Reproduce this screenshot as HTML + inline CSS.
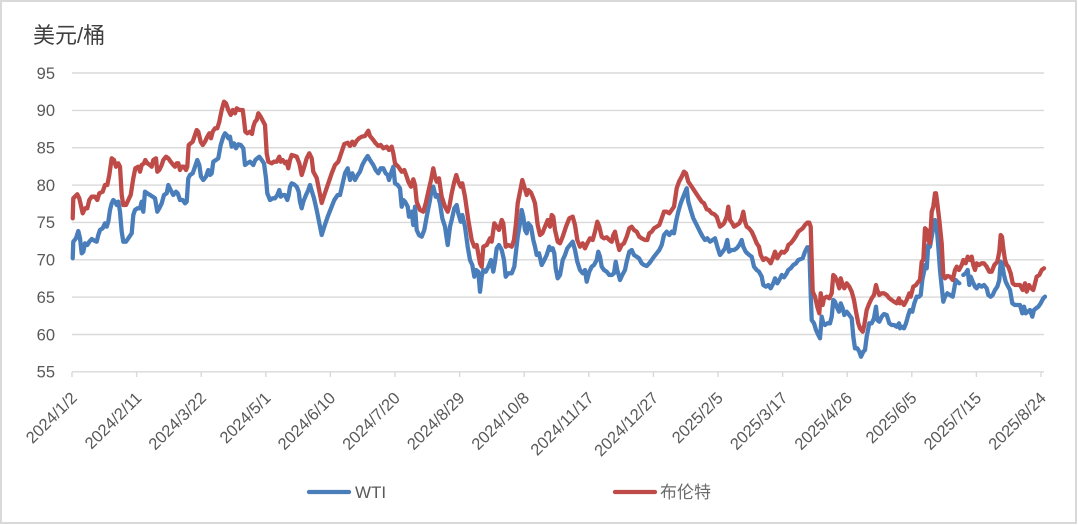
<!DOCTYPE html>
<html><head><meta charset="utf-8"><style>
html,body{margin:0;padding:0;background:#fff;}
svg{display:block;}
text{font-family:"Liberation Sans","Noto Sans CJK SC",sans-serif;}
</style></head><body>
<svg width="1078" height="525" viewBox="0 0 1078 525" xmlns="http://www.w3.org/2000/svg">
<rect x="1" y="1" width="1075" height="522" fill="#fff" stroke="#d9d9d9" stroke-width="2"/>
<text x="33" y="43" font-size="22" fill="#404040">美元/桶</text>
<g stroke="#d9d9d9" stroke-width="1.4">
<line x1="72" y1="73" x2="1044" y2="73"/>
<line x1="72" y1="110.4" x2="1044" y2="110.4"/>
<line x1="72" y1="147.7" x2="1044" y2="147.7"/>
<line x1="72" y1="185.1" x2="1044" y2="185.1"/>
<line x1="72" y1="222.4" x2="1044" y2="222.4"/>
<line x1="72" y1="259.8" x2="1044" y2="259.8"/>
<line x1="72" y1="297.1" x2="1044" y2="297.1"/>
<line x1="72" y1="334.5" x2="1044" y2="334.5"/>
<line x1="72" y1="371.8" x2="1044" y2="371.8"/>
<line x1="72" y1="371.8" x2="72" y2="377"/>
<line x1="136.6" y1="371.8" x2="136.6" y2="377"/>
<line x1="201.2" y1="371.8" x2="201.2" y2="377"/>
<line x1="265.8" y1="371.8" x2="265.8" y2="377"/>
<line x1="330.4" y1="371.8" x2="330.4" y2="377"/>
<line x1="395" y1="371.8" x2="395" y2="377"/>
<line x1="459.6" y1="371.8" x2="459.6" y2="377"/>
<line x1="524.2" y1="371.8" x2="524.2" y2="377"/>
<line x1="588.8" y1="371.8" x2="588.8" y2="377"/>
<line x1="653.4" y1="371.8" x2="653.4" y2="377"/>
<line x1="718" y1="371.8" x2="718" y2="377"/>
<line x1="782.6" y1="371.8" x2="782.6" y2="377"/>
<line x1="847.2" y1="371.8" x2="847.2" y2="377"/>
<line x1="911.8" y1="371.8" x2="911.8" y2="377"/>
<line x1="976.4" y1="371.8" x2="976.4" y2="377"/>
<line x1="1041" y1="371.8" x2="1041" y2="377"/>
</g>
<g font-size="16.5" fill="#595959" text-anchor="end">
<text x="55" y="78.8">95</text>
<text x="55" y="116.2">90</text>
<text x="55" y="153.5">85</text>
<text x="55" y="190.9">80</text>
<text x="55" y="228.2">75</text>
<text x="55" y="265.6">70</text>
<text x="55" y="302.9">65</text>
<text x="55" y="340.3">60</text>
<text x="55" y="377.6">55</text>
</g>
<g font-size="16.5" fill="#595959" text-anchor="end">
<text x="78" y="399" transform="rotate(-45 78 399)">2024/1/2</text>
<text x="142.6" y="399" transform="rotate(-45 142.6 399)">2024/2/11</text>
<text x="207.2" y="399" transform="rotate(-45 207.2 399)">2024/3/22</text>
<text x="271.8" y="399" transform="rotate(-45 271.8 399)">2024/5/1</text>
<text x="336.4" y="399" transform="rotate(-45 336.4 399)">2024/6/10</text>
<text x="401" y="399" transform="rotate(-45 401 399)">2024/7/20</text>
<text x="465.6" y="399" transform="rotate(-45 465.6 399)">2024/8/29</text>
<text x="530.2" y="399" transform="rotate(-45 530.2 399)">2024/10/8</text>
<text x="594.8" y="399" transform="rotate(-45 594.8 399)">2024/11/17</text>
<text x="659.4" y="399" transform="rotate(-45 659.4 399)">2024/12/27</text>
<text x="724" y="399" transform="rotate(-45 724 399)">2025/2/5</text>
<text x="788.6" y="399" transform="rotate(-45 788.6 399)">2025/3/17</text>
<text x="853.2" y="399" transform="rotate(-45 853.2 399)">2025/4/26</text>
<text x="917.8" y="399" transform="rotate(-45 917.8 399)">2025/6/5</text>
<text x="982.4" y="399" transform="rotate(-45 982.4 399)">2025/7/15</text>
<text x="1047" y="399" transform="rotate(-45 1047 399)">2025/8/24</text>
</g>
<g fill="none" stroke-width="4.3" stroke-linejoin="round" stroke-linecap="round">
<polyline stroke="#4a7ebb" points="72.7,258.3 73.3,241.7 76,238.3 78.3,231 80,238.3 81.7,253.3 83.3,251.7 85,243.3 87.3,245 89.3,241.7 91.7,239 95,241 96.7,241.7 98.3,235 100,230 102.7,228.3 105,223.3 106.7,226.7 108.3,221.7 110,210 111.7,203.3 113.3,200 115,201.7 116.7,205 118.3,201.7 120,211.7 121.7,231.7 123.3,241.7 126,241.7 128.3,238.3 131.7,233.3 133.3,215 135,210 137.3,208.3 140,208.3 141.7,201.7 143.3,211.7 145,191.7 147.3,193.3 150,195 152.7,196.7 155,198.3 157.3,211.7 159.3,208.3 161.7,203.3 164,195 166.7,193.3 168.3,185 170.7,190 173.3,195 176,191.7 177.7,193.3 180,200 182.7,200 185,203.3 186.7,201.7 188.3,178.3 190,175 192.7,173.3 195,166.7 197.3,160 199.3,165 201,176.7 203.3,180 206,176.7 208.3,170 210,175 211.7,173.3 213.3,161.7 216,160 218.3,158.3 220.7,145 223.3,136.7 225,133.3 226.7,135 228.3,138.3 230,136.7 231.7,146.7 234,143.3 236,148.3 238.3,144.3 240.7,145 243.3,148.3 245,165 247.3,163.3 250,161.7 251.7,163.3 253.3,165 255.3,160 257.3,158.3 259.3,156.7 261.7,160 264,163.3 266,178.3 267.3,193.3 270,200 272.7,198.3 275,198.3 277.3,195 279.3,190 280.7,196.7 282.7,195 285,195 287.3,200 288.7,195 290,186.7 291.7,183.3 294,184.3 296.7,186.7 298.7,191.7 300,201.7 301.7,208.3 303.3,201.7 306,195 308.3,190 310,185 312,191.7 314,198.3 316.7,210 321.7,235 324.3,226.7 327.7,216.7 331,208.3 334.3,200 337.7,195 340,195 342.3,185 345,173.3 347.7,168.3 350,180 352.3,173.3 355,180 357.7,175 360,171.7 362.3,165 365,160 367.7,156 370,160 373.3,165 375.7,170 378.3,173.3 380.7,168.3 383.3,168.3 385.7,173.3 387.7,175 389,180 391,173.3 393.3,166.7 395,183.3 397.7,185 400,188.3 401.7,206.7 403.3,200 405,201.7 407.7,206.7 409,216.7 411.7,211.7 413.3,225 415,206.7 416.7,230 419,235 421.7,236.7 424.3,230 426.7,216.7 430,200 431.7,188.3 433.3,186.7 435.7,196.7 437.7,195 440,203.3 442.3,218.3 445,226.7 447.7,245 450,226.7 451.7,220 454.3,208.3 456.7,205 458.3,213.3 460.7,221.7 462.3,215 465,226.7 467.7,246.7 470,260 472.3,265 474.3,276.7 476,270 478.3,271.7 480,291.7 481.7,276.7 483.3,270 485.7,271.7 488.3,266.7 491,260 493.3,271.7 495,261.7 496.7,248.3 499,245 501.7,250 504,260 505.7,276.7 508.3,273.3 511.7,273.3 514.3,266.7 516,251.7 517.7,236.7 520,223.3 521.7,210 523.3,216.7 525,230 526.7,233.3 528.3,223.3 531,226.7 533.3,240 535,246.7 536.7,255 539,253.3 541.7,265 544.3,260 546.7,255 549.3,246.7 551,250 552.7,248.3 554.3,253.3 555.7,268.3 557.7,278.3 560,275 562.7,260 565,255 567.3,248.3 570,245 572.7,241.7 575,250 577.3,261.7 580,270 582.7,273.3 585,270 586.7,281.7 589.3,271.7 591.7,266.7 594,265 596.7,260 598.3,251.7 600,256.7 601.7,266.7 604,270 606.7,271.7 609.3,275 611.7,275 614,273.3 615.7,261.7 617.3,270 620,280 622.3,275 625,270 626.7,261.7 629.3,251.7 631.7,250 634,255 636.7,256.7 639,258.3 641.7,263.3 644,265 646.7,266 649.3,263.3 651.7,260 654,256.7 656.7,253.3 659.3,250 661.7,245 664,235 666.7,231.7 669.3,235 671.7,231.7 674,233.3 676,221.7 678.3,211.7 680.7,203.3 683.3,196.7 685.3,191.7 686.7,188.3 688.3,201.7 690.7,210 693.3,218.3 696.7,225 700,231.7 702.7,236.7 705,240 707.3,238.3 710,241.7 712.7,240 715,238.3 717.3,246.7 720,255 722.7,251.7 725,248.3 727.3,240 729,251.7 731.7,250 734,250 736.7,248.3 739.3,245 741.7,240 743.3,246.7 745.7,251.7 747.3,253.3 749.3,255 751.7,256.7 754,266.7 756.7,270 759,271.7 761.7,276.7 763.3,285 766,286.7 768.3,285 770.7,288.3 773.3,283.3 775,278.3 777.3,283.3 779.3,280 781.7,275 784,277.3 786.7,273.3 788.3,270 790.7,268.3 793.3,265 796,263.3 798.3,260 802.7,258.3 805,251.7 807.3,247.3 809.3,247.3 810.7,293.3 811.7,320 814,323.3 816,330 818.3,335 820,338.3 821.7,316.7 823.3,323.3 825,325 827.3,323.3 830,323.3 831.7,316.7 833.3,300 835,301.7 836.7,306.7 839,311.7 840.7,303.3 842.7,308.3 844.3,315 846.7,311.7 849.3,315 851.7,318.3 853.3,336.7 855,348.3 857.3,348.3 859.3,351.7 861,356.7 863.3,351.7 865,350 866.7,336.7 869.3,323.3 871.7,323.3 874,318.3 876,306.7 877.3,320 879.3,321.7 881.7,316.7 884,314 886.7,315 889.3,323.3 891.7,325 894,325 896.7,326.7 899,323.3 900,328.3 901.7,326.7 904,328.3 906,323.3 908.3,315 910,310 912.3,311.7 914.3,303.3 916.7,296.7 919,296.7 920.7,295 922.3,280 924,271.7 925,265 926.7,268.3 928.3,245 930,246.7 931.7,236.7 933.3,228.3 935,220 936.7,226.7 938.3,246.7 940,270 941.7,286.7 943.3,301.7 945,296.7 947.3,293.3 950,295 952.7,296.7 954.3,288.3 955.7,280 957.3,281.7 959.3,283.3"/>
<polyline stroke="#4a7ebb" points="963.3,275 965.7,273.3 967.7,270 969.3,285 970.7,276.7 972.7,281.7 975,286.7 976.7,288.3 979,285 981.7,286.7 984,285 986.7,288.3 988.3,295 990.7,296.7 992.7,295 995,290 997.3,286.7 999.3,280 1000.7,261.7 1002,263.3 1004,275 1005.7,281.7 1007.3,285 1010,290 1012.3,303.3 1015,305 1017.3,305 1020,305 1022.3,313.3 1024,306.7 1025.7,313.3 1027.7,311.7 1030,310 1032.3,316.7 1034,310 1036,308.3 1038.3,306.7 1040.7,303.3 1043.3,298.3 1045,296.7"/>
<polyline stroke="#be4b48" points="72.7,218.3 73.3,198.3 77.3,194.3 79.3,198.3 82.7,213.3 85,208.3 87.3,208.3 89.3,200 91.7,196.7 95,196.7 97.3,200 99.3,193.3 102.7,191.7 105,185 107.3,185 109.3,175 111.7,158.3 114,160 116,166.7 118.3,163.3 120,166.7 121.7,195 123.3,205 126,205 128.3,200 130.7,195 133.3,178.3 135.3,168.3 138.3,166.7 140,171.7 141.7,165 144,163.3 145.3,160 147.3,163.3 150,165 151.7,166.7 153.3,160 156,158.3 157.3,171.7 159.3,170 161.7,165 163.3,160 166,156.7 168.3,158.3 170.7,161.7 173.3,165 175,166.7 176.7,163.3 178.3,163.3 180,170 181.7,166.7 184,166.7 186,170 187.3,166.7 188.7,145 190.7,143.3 192.7,141.7 195,135 196.7,130 198.3,131.7 200.7,141.7 202.7,145 205,141.7 207.3,136.7 209.3,133.3 211,138.3 212.7,131.7 215,128.3 217.3,128.3 219.3,121.7 221.7,110 224,101.7 226,103.3 228.3,110 230.7,115 232.7,110 235,113.3 236.7,108.3 239.3,110 242.7,110 244,120 245.3,131.7 247.3,133.3 250,131.7 252,134 253.3,126.7 255,121.7 256.7,120 258.3,113.3 260.7,116.7 263.3,121.7 265,125 266.7,153.3 268.3,161.7 271.7,163.3 274,161.7 276.7,161.7 279.3,156.7 280.7,161.7 282.7,160 285,163.3 286.7,161.7 288.3,168.3 290,160 291.7,155 294,155.7 296.7,156.7 299.3,163.3 301.7,175 303.3,170 306.7,158.3 309.3,153.3 311.7,158.3 313.3,171.7 316.7,178 321.7,203 324.3,195 328.3,183.3 331.7,173.3 335,165 338.3,161.7 341.7,151.7 344.3,144 347.7,142.7 350,146 352.3,141.7 354.3,145 356.7,140.7 359,138.3 361.7,136.7 365,136 366.7,133.3 368.3,130.7 370,136 373.3,140 375.7,143.3 378.3,146 380.7,145 383.3,148.3 386.7,146.7 389,150 391.7,146.7 393.3,153.3 395,163.3 398.3,166.7 401.7,171.7 404.3,170 406.7,176.7 408.3,181.7 411,186.7 413.3,179.3 415,185 416.7,201.7 420,210 423.3,211.7 425.7,203.3 428.3,191.7 431,180 433.3,168.3 435,176.7 436.7,181.7 439,178.3 441.7,196.7 445,206.7 447.7,211.7 449.3,206.7 451.7,193.3 454.3,181.7 456.3,175 458.3,181.7 460.7,186.7 462.3,183.3 465,196.7 468.3,220 471.7,240 474.3,246.7 476.7,245 480,263.3 481.7,266.7 483.3,246.7 486.7,245 490,238.3 491.7,241.7 494.3,223.3 496.7,226.7 499,230 501.7,220 503.3,223.3 505.7,246.7 508.3,245 511.7,246.7 514,240 516,223.3 517.7,203.3 520,191.7 522.3,180 524.3,186.7 526.7,195 528.3,190 531,192.7 533.3,198.3 535,203.3 537.7,225 540,235 542.3,233.3 545,226.7 547.7,220 550,226.7 551.7,215 553.3,216.7 555,230 557.7,241.7 560,243.3 562.7,236.7 566,226.7 569.3,218.3 572.7,216.7 575,225 577.3,240 580,246.7 582.7,243.3 585,248.3 587.3,243.3 590,238.3 592.7,240 595,231.7 597.3,221.7 599.3,226.7 601.7,236.7 604,238.3 606.7,237.3 609.3,240 611.7,241.7 613.3,235 615,231.7 616.7,240 619.3,250 621.7,245 624,243.3 626.7,236.7 629.3,228.3 631.7,226.7 634,230 636.7,231.7 639.3,236.7 641.7,238.3 645,240 647.3,240 649.3,233.3 651.7,231.7 654,228.3 656.7,226.7 659.3,225 661.7,218.3 664,211.7 666.7,211.7 669.3,213.3 671.7,210 674,206.7 676.7,188.3 679,181.7 681.7,176.7 684,171.7 686,173.3 688.3,181.7 691.7,186.7 695,191.7 698.3,196.7 701.7,201.7 704,203.3 706.7,209.3 709,210 711.7,213.3 714,214 716.7,216.7 718.3,221.7 720,226.7 722.3,225 724,223.3 726.7,216.7 728.3,206.7 730,220 732.3,223.3 734,226.7 736.7,225 739.3,223.3 741.7,218.3 743.3,211.7 745,221.7 746.7,226.7 749,228.3 751.7,231.7 754,236.7 756.7,243.3 759,246.7 760.7,255 763.3,260 765.7,258.3 768.3,260 770.7,263.3 773.3,256.7 775,251.7 777.3,258.3 779.3,255 781.7,251.7 784,252.7 786.7,250 788.3,245 790.7,243.3 793.3,240 796,236 798.3,231.7 802.7,228.3 805,225 807.3,222.7 809.3,222.7 810.7,226.7 811.7,260 812.7,291.7 815,296.7 817.3,306.7 819.3,313.3 820.7,293.3 822.7,305 824,298.3 826.7,296.7 829.3,298.3 831.7,293.3 833.3,275 835,276.7 837.3,281.7 839.3,288.3 840.7,278.3 842.7,285 844.3,288.3 846.7,283.3 849.3,286.7 851.7,291.7 854,300 856,311.7 858.3,323.3 860,328.3 862.7,331.7 864.3,325 866.7,310 869.3,303.3 871.7,298.3 874,295 876,285 877.3,290 879.3,295 881.7,293.3 884,293.3 886.7,295 889.3,298.3 891.7,300 894,301.7 896.7,303.3 899,298.3 900,303.3 901.7,301.7 904,305 906.7,300 909.3,293.3 910.7,296.7 913.3,286.7 916,285 918.3,281.7 920,280 921.7,261.7 923.3,260 925,228.3 926.7,230 928.3,240 930,243.3 931.7,211.7 933.3,206.7 935,193.3 936,193.3 937.3,203.3 939.3,220 941.7,243.3 943.3,275 945,278.3 947.3,276 950,276.7 952.7,280 955,270 956.7,266.7 959,270 961.7,265 963.3,260 965.7,263.3 967.7,256.7 970,260 971.7,256.7 973.3,265 975,270 976.7,263.3 979,265 981.7,263.3 984,263.3 986.7,266.7 989.3,271.7 991.7,271.7 994.3,265 997.3,261.7 999.3,251.7 1000.7,235 1002,236.7 1003.3,248.3 1005,260 1006.7,265 1008.3,266.7 1010.7,273.3 1012.7,283.3 1015,285 1017.3,285 1020,285 1022.7,290 1025,283.3 1026.7,291.7 1029,285 1031,288.3 1033.3,290 1035,283.3 1036.7,276.7 1039.3,275 1041.7,270 1044,268.3"/>
<line x1="309" y1="492" x2="349" y2="492" stroke="#4a7ebb"/>
<line x1="615" y1="492" x2="655" y2="492" stroke="#be4b48"/>
</g>
<text x="355" y="498" font-size="17" fill="#595959">WTI</text>
<text x="660" y="498" font-size="17" fill="#6b6b6b">布伦特</text>
</svg>
</body></html>
